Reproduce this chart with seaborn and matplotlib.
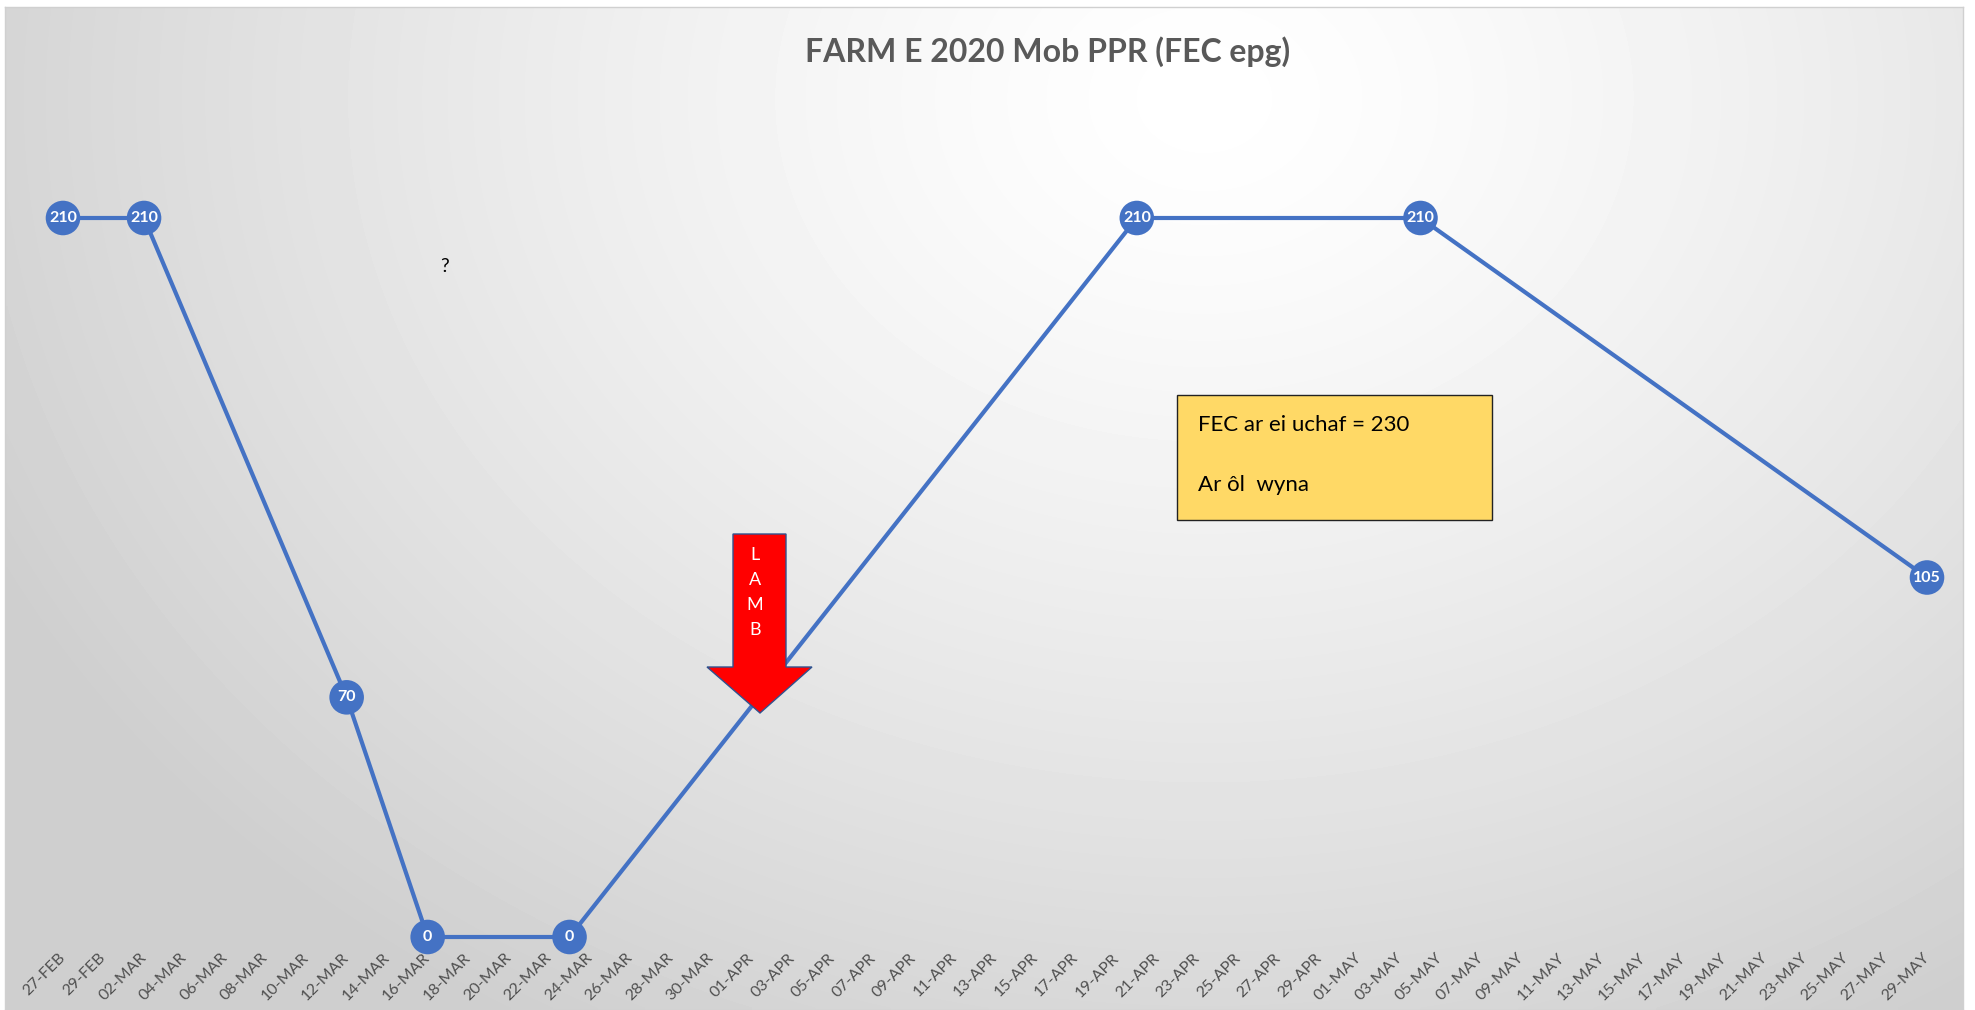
import matplotlib

matplotlib.use("Agg")

import matplotlib.pyplot as plt
import numpy as np
import pandas as pd
import seaborn as sns
from matplotlib.patches import Polygon, Rectangle

# data
sample_dates = ["2020-02-27", "2020-03-02", "2020-03-12", "2020-03-16",
                "2020-03-23", "2020-04-20", "2020-05-04", "2020-05-29"]
fec_values = [210, 210, 70, 0, 0, 210, 210, 105]
tick_start = "2020-02-27"
tick_end = "2020-05-29"

title = "FARM E 2020 Mob PPR (FEC epg)"
note_lines = ["FEC ar ei uchaf = 230", "Ar ôl  wyna"]
arrow_letters = ["L", "A", "M", "B"]

LINE = "#4472C4"
GREY_TXT = "#595959"
W, H = 1975, 1010

sns.set_theme(style="white")
plt.rcParams["font.family"] = ["Lato", "DejaVu Sans"]

df = pd.DataFrame({"date": pd.to_datetime(sample_dates), "fec": fec_values})
ticks = pd.date_range(tick_start, tick_end, freq="2D")
tick_labels = [t.strftime("%d-%b").upper() for t in ticks]

fig = plt.figure(figsize=(W / 100, H / 100), dpi=100)
fig.patch.set_facecolor("white")


def fx(x):
    return x / W


def fy(y):
    return 1 - y / H


# chart-area background: radial grey gradient like the Excel fill
bg = fig.add_axes([fx(5), 0, fx(1963 - 5), fy(7)])
gx, gy = np.meshgrid(np.linspace(0, 1958, 400), np.linspace(0, 1003, 220))
r = np.sqrt((gx - 1200) ** 2 + ((gy - 90) * 1.25) ** 2) / 1350
shade = 1 - 0.19 * np.clip(r, 0, 1) ** 1.3
bg.imshow(shade, cmap="gray", vmin=0, vmax=1, aspect="auto",
          extent=[0, 1, 0, 1], origin="upper", interpolation="bilinear")
bg.set_xlim(0, 1)
bg.set_ylim(0, 1)
bg.set_xticks([])
bg.set_yticks([])
for s in bg.spines.values():
    s.set_color("#d0d0d0")
    s.set_linewidth(1)

# main plot
x0, x1 = 63, 1927
y_zero, y_210 = 937, 218
per = (y_zero - y_210) / 210
ymax = 250
ax = fig.add_axes([fx(x0), fy(y_zero), fx(x1 - x0), (ymax * per) / H])
ax.patch.set_alpha(0)

sns.lineplot(data=df, x="date", y="fec", color=LINE, linewidth=3, ax=ax,
             zorder=2, clip_on=False)
sns.scatterplot(data=df, x="date", y="fec", color=LINE, s=620, edgecolor="none",
                ax=ax, zorder=3, clip_on=False)
for d, v in zip(df["date"], df["fec"]):
    ax.text(d, v, str(v), color="white", fontsize=11.5, fontweight="bold",
            ha="center", va="center", zorder=4, clip_on=False)

ax.set_xlim(ticks[0], ticks[-1])
ax.set_ylim(0, ymax)
ax.set_xticks(ticks)
ax.set_xticklabels(tick_labels, rotation=45, ha="right", va="center",
                   rotation_mode="anchor", fontsize=11.5, color="#505050")
ax.tick_params(axis="x", length=0, pad=13.5)
ax.set_yticks([])
ax.set_xlabel("")
ax.set_ylabel("")
for s in ax.spines.values():
    s.set_visible(False)

# title
fig.text(fx(1048), fy(52), title, ha="center", va="center", fontsize=23,
         fontweight="bold", color=GREY_TXT)

# question mark
fig.text(fx(445), fy(266), "?", ha="center", va="center", fontsize=14, color="black")

# lambing arrow
arrow_pts = [(733, 534), (786, 534), (786, 667), (812, 667), (760, 713),
             (707, 667), (733, 667)]
fig.patches.append(Polygon([(fx(a), fy(b)) for a, b in arrow_pts], closed=True,
                           transform=fig.transFigure, facecolor="#FF0000",
                           edgecolor="#2F528F", linewidth=1, zorder=1))
for i, ch in enumerate(arrow_letters):
    fig.text(fx(755), fy(555 + i * 25), ch, ha="center", va="center",
             fontsize=13, color="white")

# note box
fig.patches.append(Rectangle((fx(1177), fy(520)), fx(1492 - 1177), (520 - 395) / H,
                             transform=fig.transFigure, facecolor="#FFD966",
                             edgecolor="#222222", linewidth=1, zorder=1))
fig.text(fx(1198), fy(425), note_lines[0], ha="left", va="center", fontsize=16,
         color="black")
fig.text(fx(1198), fy(485), note_lines[1], ha="left", va="center", fontsize=16,
         color="black")

fig.savefig("out.png", dpi=100, facecolor="white")
